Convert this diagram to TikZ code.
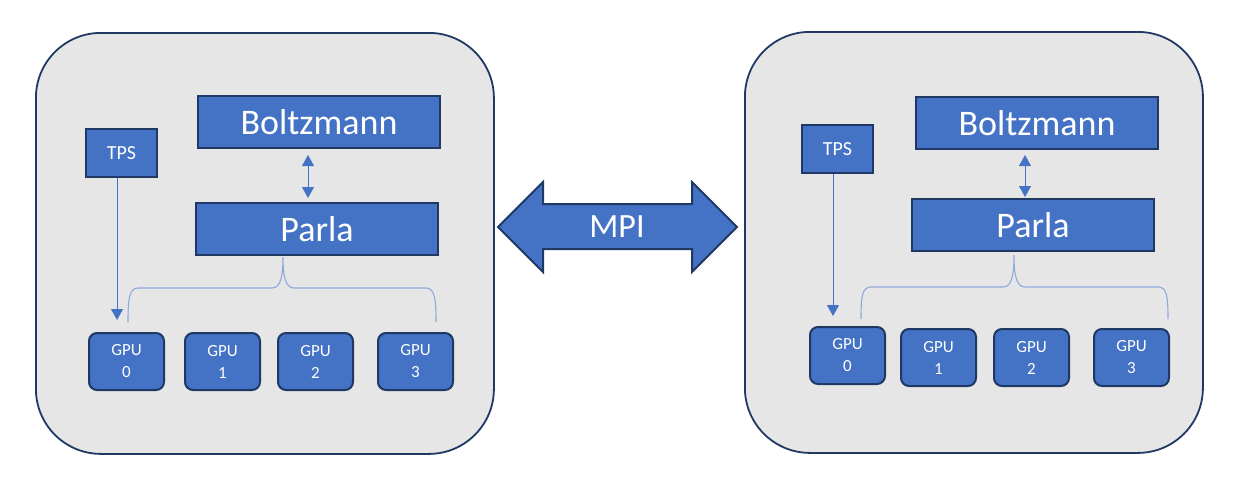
\documentclass[tikz,border=0pt]{standalone}
\usepackage{fontspec}
\setmainfont{Carlito}
\usetikzlibrary{arrows.meta}
\definecolor{boxblue}{HTML}{4472C4}
\definecolor{edgenavy}{HTML}{1F3864}
\definecolor{panelgray}{HTML}{E7E6E6}
\definecolor{bracelight}{HTML}{8EA9DB}
\tikzset{
  panel/.style={draw=edgenavy, line width=1.8pt, fill=panelgray, rounded corners=65pt,
    anchor=north west, inner sep=0pt, minimum width=458pt, minimum height=421pt},
  bigbox/.style={draw=edgenavy, line width=2pt, fill=boxblue, text=white, anchor=north west,
    inner sep=0pt, minimum width=242pt, minimum height=52pt, font=\fontsize{36}{40}\selectfont},
  tpsbox/.style={draw=edgenavy, line width=2pt, fill=boxblue, text=white, anchor=north west,
    inner sep=0pt, minimum width=71pt, minimum height=48pt, font=\fontsize{20}{24}\selectfont},
  gpubox/.style={draw=edgenavy, line width=2pt, fill=boxblue, text=white, anchor=north west,
    rounded corners=8pt, inner sep=0pt, minimum width=75pt, minimum height=57pt, align=center,
    font=\fontsize{17}{22}\selectfont},
  link/.style={draw=boxblue, line width=0.9pt, -{Triangle[width=12pt,length=11pt]}},
  duplex/.style={draw=boxblue, line width=0.9pt, {Triangle[width=12pt,length=11pt]}-{Triangle[width=12pt,length=11pt]}},
  brace/.style={draw=bracelight, line width=1.1pt}
}
\begin{document}
\begin{tikzpicture}[x=1pt, y=-1pt]
  \useasboundingbox (0,0) rectangle (1236,493);
  % Left node
  \node[panel] (panelL) at (35,32) {};
  \node[bigbox] (boltzL) at (197,95) {Boltzmann};
  \node[bigbox] (parlaL) at (195,202) {Parla};
  \node[tpsbox] (tpsL) at (85,128) {TPS};
  \node[gpubox] (gpuL0) at (88,332) {GPU\\0};
  \node[gpubox] (gpuL1) at (184,332) {GPU\\1};
  \node[gpubox] (gpuL2) at (277,332) {GPU\\2};
  \node[gpubox] (gpuL3) at (377,332) {GPU\\3};
  \draw[duplex, shorten <=6pt, shorten >=4pt] ([xshift=-11pt]boltzL.south) -- ([xshift=-9pt]parlaL.north);
  \draw[link, shorten >=12pt] ([xshift=-4.5pt]tpsL.south) -- ([xshift=-9.5pt]gpuL0.north);
  \draw[brace] (128,322) .. controls (128,300) and (129,288) .. (138,288) -- (272,288)
    .. controls (281,288) and (283,275) .. (283,257) .. controls (283,275) and (285,288) .. (294,288)
    -- (426,288) .. controls (435,288) and (436,300) .. (436,322);
  % Right node
  \node[panel] (panelR) at (744,31) {};
  \node[bigbox] (boltzR) at (915,96) {Boltzmann};
  \node[bigbox] (parlaR) at (911,198) {Parla};
  \node[tpsbox] (tpsR) at (801,124) {TPS};
  \node[gpubox] (gpuR0) at (809,326) {GPU\\0};
  \node[gpubox] (gpuR1) at (900,328) {GPU\\1};
  \node[gpubox] (gpuR2) at (993,328) {GPU\\2};
  \node[gpubox] (gpuR3) at (1093,328) {GPU\\3};
  \draw[duplex, shorten <=5pt, shorten >=1pt] ([xshift=-12pt]boltzR.south) -- ([xshift=-8pt]parlaR.north);
  \draw[link, shorten >=10pt] ([xshift=-4.5pt]tpsR.south) -- ([xshift=-14.5pt]gpuR0.north);
  \draw[brace] (861,319) .. controls (861,297) and (862,287) .. (871,287) -- (1003,287)
    .. controls (1012,287) and (1014,274) .. (1014,255) .. controls (1014,274) and (1016,287) .. (1025,287)
    -- (1158,287) .. controls (1167,287) and (1168,297) .. (1168,319);
  % MPI link
  \draw[edgenavy, line width=2pt, fill=boxblue, line join=miter]
    (498,227) -- (543,182) -- (543,204) -- (692,204) -- (692,182) -- (737,227)
    -- (692,272) -- (692,249) -- (543,249) -- (543,272) -- cycle;
  \node[text=white, font=\fontsize{34}{38}\selectfont] (mpi) at (617,227) {MPI};
\end{tikzpicture}
\end{document}
